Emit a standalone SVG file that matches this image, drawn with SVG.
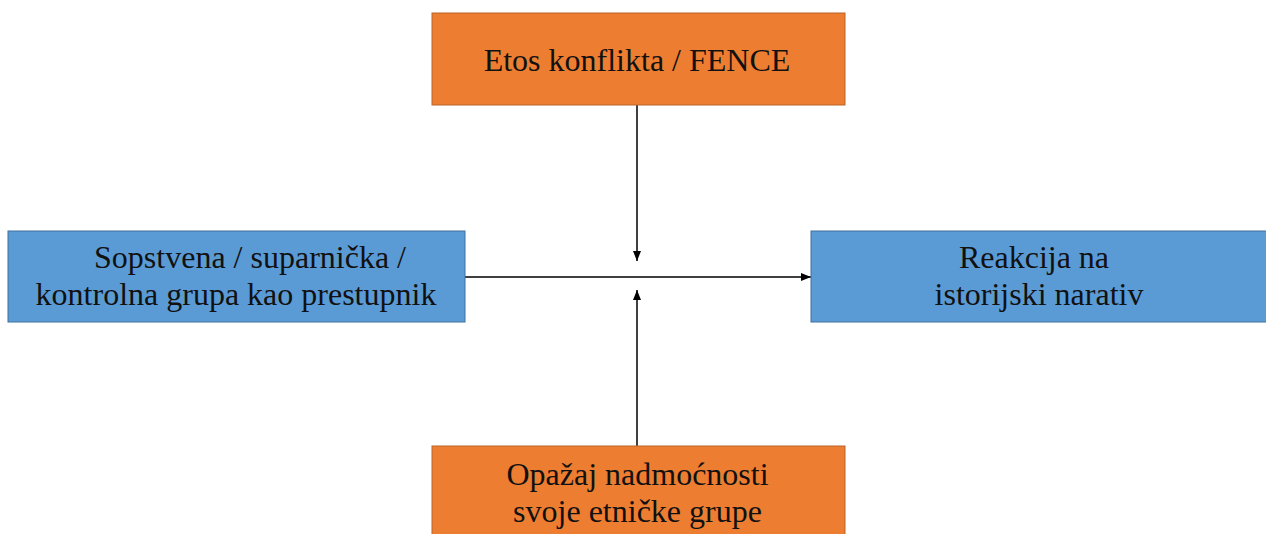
<svg xmlns="http://www.w3.org/2000/svg" width="1266" height="534" viewBox="0 0 1266 534">
  <style>
    .orange { fill: #ED7D31; stroke: #B9642A; stroke-width: 1; }
    .blue { fill: #5B9BD5; stroke: #41719C; stroke-width: 1; }
    .label { font-family: "Liberation Serif", "Times New Roman", serif; font-size: 32px; fill: #111; text-anchor: middle; }
    .wire { stroke: #000; stroke-width: 1.5; fill: none; }
  </style>
  <defs>
    <marker id="arrow" viewBox="0 0 10 8" refX="10" refY="4" markerWidth="10" markerHeight="8" markerUnits="userSpaceOnUse" orient="auto">
      <path d="M0,0 L10,4 L0,8 Z" fill="#000"/>
    </marker>
  </defs>
  <rect width="1266" height="534" fill="#fff"/>

  <g id="connectors">
    <line class="wire" x1="637" y1="105" x2="637" y2="261" marker-end="url(#arrow)"/>
    <line class="wire" x1="465" y1="277" x2="811" y2="277" marker-end="url(#arrow)"/>
    <line class="wire" x1="637" y1="446" x2="637" y2="290" marker-end="url(#arrow)"/>
  </g>

  <g id="node-etos">
    <rect class="orange" x="432" y="13" width="413" height="92"/>
    <text class="label" x="637" y="71">Etos konflikta / FENCE</text>
  </g>

  <g id="node-prestupnik">
    <rect class="blue" x="8" y="231" width="457" height="91"/>
    <text class="label" x="250" y="268">Sopstvena / suparnička /</text>
    <text class="label" x="236" y="305">kontrolna grupa kao prestupnik</text>
  </g>

  <g id="node-reakcija">
    <rect class="blue" x="811" y="231" width="460" height="91"/>
    <text class="label" x="1034" y="268">Reakcija na</text>
    <text class="label" x="1039" y="305">istorijski narativ</text>
  </g>

  <g id="node-nadmocnost">
    <rect class="orange" x="432" y="446" width="413" height="100"/>
    <text class="label" x="637.5" y="485">Opažaj nadmoćnosti</text>
    <text class="label" x="637.5" y="522">svoje etničke grupe</text>
  </g>
</svg>
